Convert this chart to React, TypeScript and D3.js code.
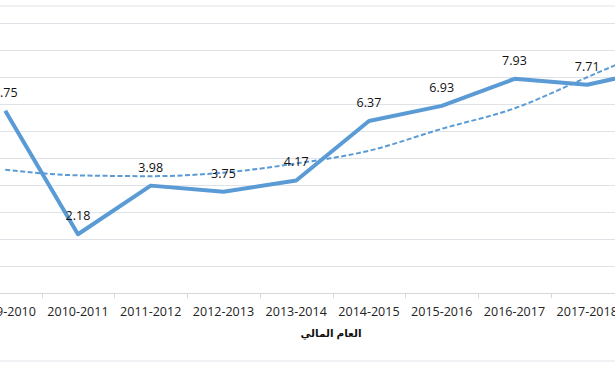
import React from "react";
import * as d3 from "d3";

// fiscal years (the first and last are partly outside the frame)
const categories = [
  "2009-2010",
  "2010-2011",
  "2011-2012",
  "2012-2013",
  "2013-2014",
  "2014-2015",
  "2015-2016",
  "2016-2017",
  "2017-2018",
  "2018-2019",
];
const values = [6.75, 2.18, 3.98, 3.75, 4.17, 6.37, 6.93, 7.93, 7.71, 8.31];
// trend line
const trend = [4.57, 4.36, 4.33, 4.46, 4.8, 5.27, 6.08, 6.84, 7.99, 9.15];
const yTicks = [1, 2, 3, 4, 5, 6, 7, 8, 9, 10];
const axisTitle = "العام المالي";

const W = 615;
const H = 368;
const blue = "#5B9BD5";
const grid = "#dfe3e8";
const font = "'Open Sans', 'Liberation Sans', sans-serif";

export default function App() {
  const step = 72.75;
  const x0 = 41.6 - step; // left edge of first band
  const x = d3
    .scaleBand<string>()
    .domain(categories)
    .range([x0, x0 + step * categories.length])
    .padding(0);
  const cx = (c: string) => (x(c) as number) + x.bandwidth() / 2;

  const y = d3.scaleLinear().domain([0, 10]).range([293.2, 22.9]);

  const line = d3
    .line<number>()
    .x((_, i) => cx(categories[i]))
    .y((d) => y(d));

  const trendLine = d3
    .line<number>()
    .x((_, i) => cx(categories[i]))
    .y((d) => y(d))
    .curve(d3.curveMonotoneX);

  return (
    <svg
      width={W}
      height={H}
      style={{ position: "absolute", left: 0, top: 0, background: "#fff" }}
    >
      {/* chart area border (top and bottom edges visible) */}
      <line x1={0} x2={W} y1={6} y2={6} stroke={grid} strokeWidth={1} />
      <line x1={0} x2={W} y1={361} y2={361} stroke={grid} strokeWidth={1} />

      {/* gridlines */}
      {yTicks.map((t) => (
        <line
          key={t}
          x1={0}
          x2={W}
          y1={Math.round(y(t)) + 0.5}
          y2={Math.round(y(t)) + 0.5}
          stroke={grid}
          strokeWidth={1}
        />
      ))}

      {/* x axis */}
      <line
        x1={0}
        x2={W}
        y1={Math.round(y(0)) + 0.5}
        y2={Math.round(y(0)) + 0.5}
        stroke="#d4d8dd"
        strokeWidth={1}
      />
      {categories.map((c) => (
        <line
          key={"t" + c}
          x1={Math.round(x(c) as number) + 0.5}
          x2={Math.round(x(c) as number) + 0.5}
          y1={y(0)}
          y2={y(0) + 5}
          stroke="#d4d8dd"
        />
      ))}
      {categories.map((c) => (
        <text
          key={"l" + c}
          x={cx(c)}
          y={316}
          textAnchor="middle"
          fontFamily={font}
          fontSize={12.5}
          fill="#222"
        >
          {c}
        </text>
      ))}
      <text
        x={331}
        y={337}
        textAnchor="middle"
        fontFamily="Arial, 'DejaVu Sans', sans-serif"
        fontWeight="bold"
        fontSize={10.5}
        fill="#111"
        direction="rtl"
      >
        {axisTitle}
      </text>

      {/* trend */}
      <path
        d={trendLine(trend) || ""}
        fill="none"
        stroke={blue}
        strokeWidth={2}
        strokeDasharray="5,2.5"
      />

      {/* series */}
      <path
        d={line(values) || ""}
        fill="none"
        stroke={blue}
        strokeWidth={4}
        strokeLinejoin="round"
      />

      {/* data labels */}
      {values.map((v, i) => (
        <text
          key={"d" + i}
          x={cx(categories[i])}
          y={y(v) - 14}
          textAnchor="middle"
          fontFamily={font}
          fontSize={12.5}
          fill="#111"
        >
          {v.toFixed(2)}
        </text>
      ))}
    </svg>
  );
}
